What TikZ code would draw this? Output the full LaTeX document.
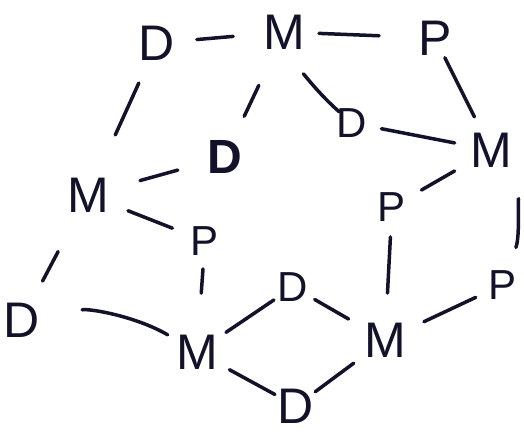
\documentclass[tikz,border=0pt]{standalone}
\usepackage{fontspec}
\setmainfont{Liberation Sans}
\definecolor{ink}{RGB}{18,18,42}
\begin{document}
\begin{tikzpicture}[x=1pt,y=-1pt,
  lbl/.style={text=ink,inner sep=0pt,font=\fontsize{50}{50}\selectfont},
  sml/.style={lbl,font=\fontsize{42}{42}\selectfont},
  con/.style={draw=ink,line width=3.5pt,line cap=round}]
\useasboundingbox[fill=white] (0,0) rectangle (524,433);
\node[lbl] (D1) at (157,43) {D};
\node[lbl] (M1) at (284,32) {M};
\node[lbl] (P1) at (435,38) {P};
\node[sml] (D2) at (352,123) {D};
\node[lbl] (M3) at (491,150) {M};
\node[lbl,font=\bfseries\fontsize{48}{48}\selectfont] (Db) at (225,157) {D};
\node[lbl] (M2) at (88,195) {M};
\node[sml] (P2) at (392,207) {P};
\node[sml] (P3) at (205,241) {P};
\node[lbl] (D3) at (22,320) {D};
\node[lbl] (M4) at (197,352) {M};
\node[sml] (D4) at (293,287) {D};
\node[lbl] (M5) at (385,340) {M};
\node[sml] (P4) at (502,285) {P};
\node[lbl] (D5) at (296,406) {D};
% connectors
\draw[con,shorten <=40pt,shorten >=51pt] (D1.center) -- (M1.center);
\draw[con,shorten <=35pt,shorten >=56pt] (M1.center) -- (P1.center);
\draw[con,shorten <=44pt,shorten >=66pt] (D1.center) -- (M2.center);
\draw[con,shorten <=59pt,shorten >=45pt] (M1.center) -- (Db.center);
\draw[con,shorten <=46pt,shorten >=17pt] (M1.center) to[bend right=12] (D2.center);
\draw[con,shorten <=22pt,shorten >=37pt] (P1.center) -- (M3.center);
\draw[con,shorten <=30pt,shorten >=37pt] (D2.center) -- (M3.center);
\draw[con,shorten <=54pt,shorten >=49pt] (M2.center) -- (Db.center);
\draw[con,shorten <=42pt,shorten >=34pt] (M3.center) -- (P2.center);
\draw[con,shorten <=56pt,shorten >=40pt] (M3.center) to[bend left=25] (P4.center);
\draw[con,shorten <=43pt,shorten >=35pt] (M2.center) -- (P3.center);
\draw[con,shorten <=64pt,shorten >=44pt] (M2.center) -- (D3.center);
\draw[con,shorten <=28pt,shorten >=59pt] (P3.center) -- (M4.center);
\draw[con,shorten <=61pt,shorten >=34pt] (D3.center) to[bend left=20] (M4.center);
\draw[con,shorten <=35pt,shorten >=23pt] (M4.center) -- (D4.center);
\draw[con,shorten <=37pt,shorten >=24pt] (M4.center) -- (D5.center);
\draw[con,shorten <=25pt,shorten >=42pt] (D4.center) -- (M5.center);
\draw[con,shorten <=30pt,shorten >=47pt] (P2.center) -- (M5.center);
\draw[con,shorten <=43pt,shorten >=29pt] (M5.center) -- (P4.center);
\draw[con,shorten <=24pt,shorten >=39pt] (D5.center) -- (M5.center);
\end{tikzpicture}
\end{document}
